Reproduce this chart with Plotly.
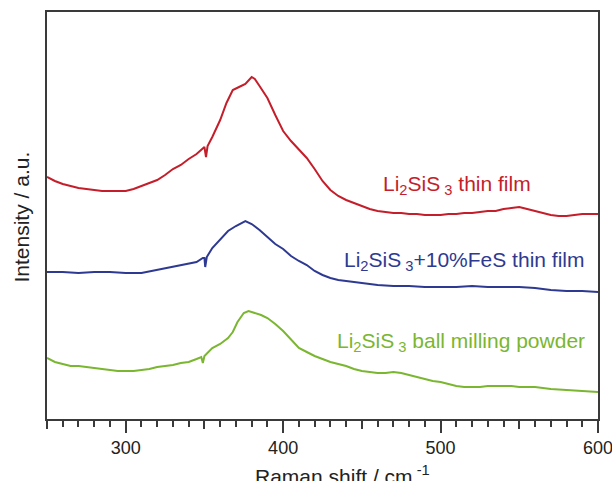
import plotly.graph_objects as go

# Raman shift (cm^-1) and intensity (a.u.)
red_x = [250, 255, 260, 265, 270, 275, 280, 285, 290, 295, 300, 305, 310, 315, 320, 325, 330, 335, 340, 345,
         349, 350, 351, 352, 355, 358, 360, 364, 368, 372, 376, 380, 382, 385, 390, 395, 400, 405, 410, 415,
         420, 425, 430, 435, 440, 445, 450, 455, 460, 465, 470, 475, 480, 485, 490, 495, 500, 505, 510, 515,
         520, 525, 530, 535, 540, 545, 550, 555, 560, 565, 570, 575, 580, 585, 590, 595, 600]
red_y = [242, 238, 235, 233, 231, 230, 229, 228, 228, 228, 228, 230, 233, 236, 239, 244, 250, 254, 260, 265,
         271, 272, 262, 273, 282, 292, 299, 316, 329, 332, 335, 342, 340, 333, 321, 304, 288, 278, 270, 261,
         250, 238, 229, 223, 219, 216, 213, 210, 208, 207, 206, 206, 205, 205, 204, 204, 204, 205, 205, 206,
         206, 207, 208, 208, 210, 211, 212, 210, 208, 206, 204, 203, 203, 204, 205, 205, 205]

blue_x = [250, 260, 270, 280, 290, 300, 310, 320, 330, 340, 345, 349, 350, 350.5, 351.5, 355, 360, 365, 370, 376,
          380, 385, 390, 395, 400, 405, 410, 415, 420, 425, 430, 435, 440, 450, 460, 470, 480, 490, 500, 510,
          520, 530, 540, 550, 560, 570, 580, 590, 600]
blue_y = [147, 147, 146, 147, 147, 146, 146, 149, 152, 155, 157, 161, 161, 152, 162, 171, 180, 188, 193, 198,
          195, 189, 182, 175, 170, 163, 158, 154, 148, 144, 141, 139, 138, 136, 134, 133, 133, 132, 132, 132,
          133, 132, 132, 132, 131, 129, 128, 128, 127]

green_x = [250, 255, 260, 265, 270, 275, 280, 285, 290, 295, 300, 305, 310, 315, 320, 325, 330, 335, 340, 345,
           348, 349, 350, 355, 360, 365, 368, 371, 375, 378, 382, 386, 390, 395, 400, 405, 410, 415, 420, 425,
           430, 435, 440, 445, 450, 455, 460, 465, 470, 475, 480, 485, 490, 495, 500, 505, 510, 515, 520, 525,
           530, 535, 540, 545, 550, 555, 560, 570, 580, 590, 600]
green_y = [61, 57, 55, 53, 53, 52, 51, 50, 49, 48, 48, 48, 49, 50, 52, 53, 54, 56, 57, 60,
           62, 56, 63, 71, 75, 81, 87, 97, 106, 108, 106, 104, 101, 95, 88, 79, 71, 67, 63, 60,
           57, 55, 53, 50, 48, 47, 46, 46, 47, 46, 44, 42, 40, 38, 37, 35, 33, 32, 32, 32,
           33, 33, 33, 33, 32, 32, 32, 30, 29, 28, 27]

labels = ["Li<sub>2</sub>SiS<sub> 3</sub> thin film",
          "Li<sub>2</sub>SiS<sub> 3</sub>+10%FeS thin film",
          "Li<sub>2</sub>SiS<sub> 3</sub> ball milling powder"]
label_x = [558.7, 592.4, 593.0]
label_y = [234.5, 158.5, 77.0]

major_ticks = [300, 400, 500, 600]
major_tick_text = ["300", "400", "500", "600"]
mid_ticks = [250, 350, 450, 550]

RED = "#C41E2A"
BLUE = "#2E3A92"
GREEN = "#7AB630"
AX = "#3a3a3a"
FONT = "Liberation Sans, Arial, sans-serif"

# page body margin is removed by the post script, so the figure fills the window
W, H = 612, 481
L, T, R, B = 47, 12, 14, 62
PW = W - L - R
PH = H - T - B

fig = go.Figure()
for xs, ys, c in [(red_x, red_y, RED), (blue_x, blue_y, BLUE), (green_x, green_y, GREEN)]:
    fig.add_trace(go.Scatter(x=xs, y=ys, mode="lines", line=dict(color=c, width=2), showlegend=False,
                             hoverinfo="skip"))
# helper trace so the secondary tick axis is drawn
fig.add_trace(go.Scatter(x=[250, 600], y=[None, None], xaxis="x2", mode="lines", showlegend=False,
                         hoverinfo="skip"))

for t, x, y, c in zip(labels, label_x, label_y, [RED, BLUE, GREEN]):
    fig.add_annotation(text=t, x=x, y=y, xref="x", yref="y", xanchor="right", yanchor="middle",
                       showarrow=False, font=dict(family=FONT, size=21, color=c))

fig.add_annotation(text="Raman shift / cm<sup> -1</sup>", x=(253 - L) / PW, y=(PH + T - 460) / PH,
                   xref="paper", yref="paper", xanchor="left", yanchor="top", showarrow=False,
                   font=dict(family=FONT, size=21, color="#222"))
fig.add_annotation(text="Intensity / a.u.", x=(21 - L) / PW, y=(PH + T - 217.5) / PH,
                   xref="paper", yref="paper", xanchor="center", yanchor="middle", textangle=-90,
                   showarrow=False, font=dict(family=FONT, size=21, color="#222"))

fig.update_layout(
    width=W, height=H,
    margin=dict(l=L, r=R, t=T, b=B, autoexpand=False),
    paper_bgcolor="white", plot_bgcolor="white",
    font=dict(family=FONT, size=18, color="#222"),
    hovermode=False,
    xaxis=dict(range=[250, 600], tickvals=major_ticks, ticktext=major_tick_text, ticks="outside", ticklen=12,
               tickwidth=1.5, tickcolor=AX, showline=True, linecolor=AX, linewidth=1.5, mirror=True,
               showgrid=False, zeroline=False, ticklabelstandoff=0, ticklabeloverflow="allow", automargin=False,
               minor=dict(dtick=10, ticks="outside", ticklen=6, tickwidth=1.5, tickcolor=AX, showgrid=False)),
    xaxis2=dict(range=[250, 600], overlaying="x", anchor="y", side="bottom", tickvals=mid_ticks,
                ticks="outside", ticklen=9, tickwidth=1.5, tickcolor=AX, showticklabels=False,
                showline=False, showgrid=False, zeroline=False, automargin=False),
    yaxis=dict(range=[0, 407], showticklabels=False, ticks="", showline=True, linecolor=AX, linewidth=1.5,
               mirror=True, showgrid=False, zeroline=False, automargin=False),
)

fig.write_html("out.html", config={"displayModeBar": False},
               post_script="document.body.style.margin='0px';document.body.style.overflow='hidden';")
